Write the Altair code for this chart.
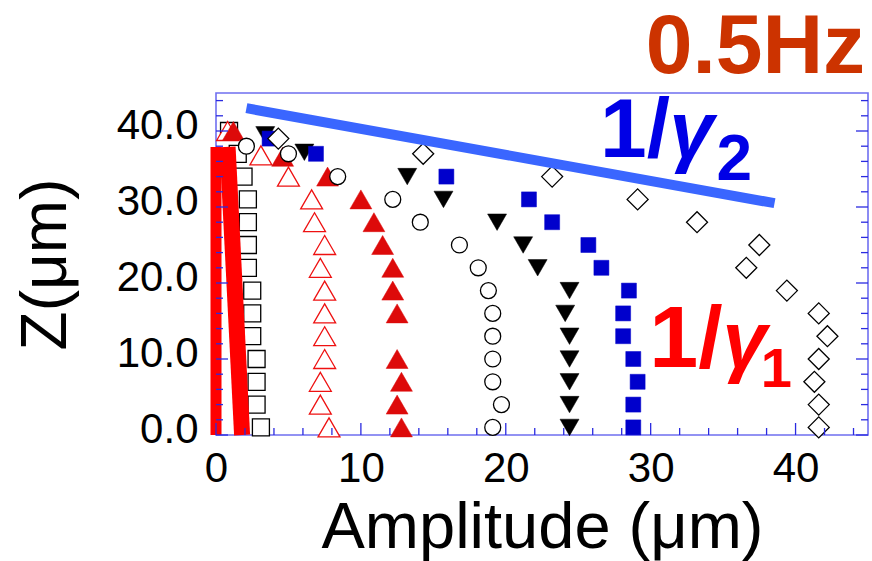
import altair as alt
import pandas as pd

# ---------------- data ----------------
# open black squares
sq_x = [0.9, 1.5, 1.9, 2.2, 2.2, 2.2, 2.2, 2.5, 2.5, 2.5, 2.8, 2.8, 2.8, 3.1]
sq_z = [40, 37, 34, 31, 28, 25, 22, 19, 16, 13, 10, 7, 4, 1]
# open red triangles
otri_x = [0.8, 3.1, 5.0, 6.6, 6.8, 7.5, 7.2, 7.5, 7.5, 7.5, 7.5, 7.2, 7.2, 7.8]
otri_z = [40, 36.8, 34, 31, 28, 25, 22, 19, 16, 13, 10, 7, 4, 1]
# filled red triangles
ftri_x = [1.2, 4.6, 7.7, 10.0, 10.9, 11.5, 12.2, 12.2, 12.5, 12.5, 12.8, 12.5, 12.8]
ftri_z = [40, 36.6, 34, 31, 28, 25, 22, 19, 16, 10, 7, 4, 1]
# open circles
circ_x = [2.1, 5.0, 8.4, 12.2, 14.1, 16.8, 18.1, 18.8, 19.1, 19.1, 19.1, 19.1, 19.7, 19.1]
circ_z = [38, 37, 34, 31, 28, 25, 22, 19, 16, 13, 10, 7, 4, 1]
# filled black down-triangles
dtri_x = [3.4, 6.1, 13.2, 15.7, 19.4, 21.2, 22.2, 24.4, 24.1, 24.4, 24.4, 24.4, 24.4, 24.4]
dtri_z = [39.5, 37.2, 34, 31, 28, 25, 22, 19, 16, 13, 10, 7, 4, 1]
# filled blue squares
bsq_x = [3.7, 6.9, 15.9, 21.6, 23.2, 25.7, 26.6, 28.5, 28.1, 28.1, 28.8, 29.1, 28.8, 28.8]
bsq_z = [39, 37, 34, 31, 28, 25, 22, 19, 16, 13, 10, 7, 4, 1]
# open diamonds
dia_x = [4.3, 14.3, 23.2, 29.1, 33.2, 37.5, 36.6, 39.4, 41.6, 42.2, 41.6, 41.3, 41.6, 41.6]
dia_z = [39, 37, 34, 31, 28, 25, 22, 19, 16, 13, 10, 7, 4, 1]

# guide lines
red1_x = [0.0, 0.0]
red1_z = [0.0, 37.9]
red2_x = [0.8, 1.8]
red2_z = [37.9, 0.0]
blue_x = [2.1, 38.55]
blue_z = [43.0, 30.5]

# axis labels / ticks
x_labels = [0, 10, 20, 30, 40]
y_labels = [0, 10, 20, 30, 40]
x_minor = [v for v in range(2, 45, 2) if v % 10 != 0]
y_minor = [v for v in range(2, 45, 2) if v % 10 != 0]
x_major = [0, 10, 20, 30, 40]
y_major = [0, 10, 20, 30, 40]

# annotations
ann_text = ["0.5Hz", "1/", "γ", "2", "1/", "γ", "1"]
ann_x = [44.8, 26.5, 31.3, 34.55, 29.9, 34.95, 37.6]
ann_z = [47.6, 36.6, 36.6, 33.5, 8.95, 8.95, 6.3]

# ---------------- chart ----------------
W, H = 652, 342
FONT = "Liberation Sans"
xs = alt.Scale(domain=[0, 45], nice=False, zero=False)
ys = alt.Scale(domain=[0, 45], nice=False, zero=False)

XA = alt.Axis(values=x_labels, ticks=False, tickSize=0, domain=False, grid=False,
              labelFont=FONT, labelFontSize=42, labelColor="black",
              labelPadding=13, labelFlush=False,
              title="Amplitude (μm)", titleFont=FONT, titleFontSize=65,
              titleFontWeight="normal", titleColor="black",
              titleY=112, titleBaseline="alphabetic")
YA = alt.Axis(values=y_labels, format=".1f", ticks=False, tickSize=0, domain=False,
              grid=False, labelFont=FONT, labelFontSize=42, labelColor="black",
              labelPadding=18, labelOffset=-6, labelFlush=False,
              title="Z(μm)", titleFont=FONT, titleFontSize=64,
              titleFontWeight="normal", titleColor="black",
              titleX=-151, titleY=171, titleBaseline="alphabetic",
              titleAlign="center")


def df(x, z):
    return pd.DataFrame({"x": x, "z": z})


def ex():
    return alt.X("x:Q", scale=xs, axis=XA)


def ey():
    return alt.Y("z:Q", scale=ys, axis=YA)


def enc():
    return dict(x=ex(), y=ey())


def pts(x, z, shape, size, fill, stroke, sw=1.3):
    return alt.Chart(df(x, z)).mark_point(
        shape=shape, size=size, filled=True, fill=fill, stroke=stroke,
        strokeWidth=sw, opacity=1, fillOpacity=1
    ).encode(**enc())


layers = []
layers.append(pts(sq_x, sq_z, "square", 289, "white", "#000000"))
layers.append(pts(otri_x, otri_z, "triangle-up", 480, "white", "#ee1111"))
layers.append(pts(ftri_x, ftri_z, "triangle-up", 480, "#dd0a0a", "#dd0a0a", sw=0.5))
layers.append(pts(circ_x, circ_z, "circle", 254, "white", "#000000"))
layers.append(pts(dtri_x, dtri_z, "triangle-down", 361, "#000000", "#000000", sw=0.5))
layers.append(pts(bsq_x, bsq_z, "square", 225, "#0000cc", "#0000cc", sw=0.5))
layers.append(pts(dia_x, dia_z, "diamond", 441, "white", "#000000"))

# thick guide lines
layers.append(alt.Chart(df(red1_x, red1_z)).mark_line(
    color="#ff0000", strokeWidth=11, strokeCap="butt").encode(**enc()))
layers.append(alt.Chart(df(red2_x, red2_z)).mark_line(
    color="#ff0000", strokeWidth=16, strokeCap="butt").encode(**enc()))
layers.append(alt.Chart(df(blue_x, blue_z)).mark_line(
    color="#3a66ff", strokeWidth=10, strokeCap="butt").encode(**enc()))

# inward ticks
TICK = "#2a2ae0"


def ticks_x(vals, length):
    return alt.Chart(pd.DataFrame({"x": vals})).mark_rule(color=TICK, strokeWidth=1.3).encode(
        x=ex(), y=alt.value(H), y2=alt.value(H - length))


def ticks_y(vals, length, right=False):
    x0 = W if right else 0
    x1 = W - length if right else length
    return alt.Chart(pd.DataFrame({"z": vals})).mark_rule(color=TICK, strokeWidth=1.3).encode(
        y=ey(), x=alt.value(x0), x2=alt.value(x1))


layers += [ticks_x(x_minor, 7), ticks_x(x_major, 12),
           ticks_y(y_minor, 7), ticks_y(y_major, 12),
           ticks_y(y_minor, 7, True), ticks_y(y_major, 12, True)]

# annotations
ann = pd.DataFrame({"t": ann_text, "x": ann_x, "z": ann_z})


def text(i, color, size, align="left", style="normal"):
    return alt.Chart(ann.iloc[[i]]).mark_text(
        font=FONT, fontWeight="bold", fontSize=size, color=color, align=align,
        baseline="alphabetic", fontStyle=style
    ).encode(text="t:N", **enc())


layers.append(text(0, "#cc3300", 84, "right"))
layers.append(text(1, "#0000e6", 84))
layers.append(text(2, "#0000e6", 80, style="italic"))
layers.append(text(3, "#0000e6", 64))
layers.append(text(4, "#ff0000", 88))
layers.append(text(5, "#ff0000", 80, style="italic"))
layers.append(text(6, "#ff0000", 56))

chart = alt.layer(*layers).properties(
    width=W, height=H,
    autosize=alt.AutoSizeParams(type="none"),
    padding={"left": 216, "top": 93, "right": 4, "bottom": 126},
    background="white",
).configure_view(stroke="#6f6ff0", strokeWidth=1.6)

chart.save("out.html", embed_options={"renderer": "svg", "actions": False})
